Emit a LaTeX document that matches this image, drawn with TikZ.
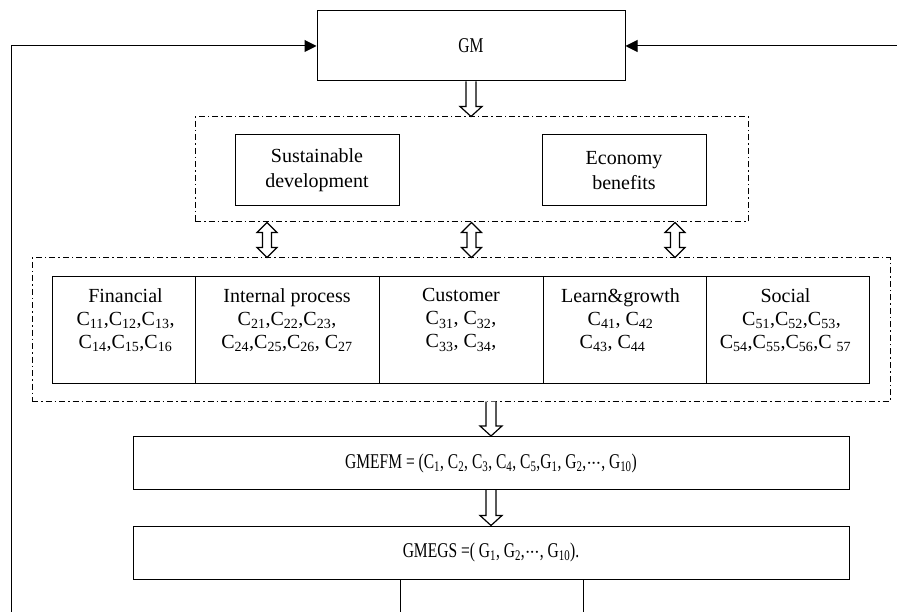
\documentclass[tikz,border=0pt]{standalone}
\usepackage{fontspec}
\setmainfont{Liberation Serif}
\newfontfamily\condfont[FakeStretch=0.74]{Liberation Serif}
\usetikzlibrary{arrows.meta,calc}
\newcommand\Cs[1]{C\textsubscript{#1}}
\newcommand\Gs[1]{G\textsubscript{#1}}
\newcommand\mydots{${\cdot}\mkern-1mu{\cdot}\mkern-1mu{\cdot}$}
\newcommand\hollowdown[2]{\draw[hollow] let \p1=(#1), \p2=(#2) in
  (\x1-5pt,\y1) -- (\x1-5pt,\y2+10pt) -- (\x1-11pt,\y2+10pt) -- (\x1,\y2)
  -- (\x1+11pt,\y2+10pt) -- (\x1+5pt,\y2+10pt) -- (\x1+5pt,\y1);}
\newcommand\hollowboth[2]{\draw[hollow] let \p1=(#1), \p2=(#2) in
  (\x1,\y1) -- (\x1+10pt,\y1-10pt) -- (\x1+4.5pt,\y1-10pt) -- (\x1+4.5pt,\y2+10pt)
  -- (\x1+10pt,\y2+10pt) -- (\x1,\y2) -- (\x1-10pt,\y2+10pt) -- (\x1-4.5pt,\y2+10pt)
  -- (\x1-4.5pt,\y1-10pt) -- (\x1-10pt,\y1-10pt) -- cycle;}
\tikzset{
  box/.style={draw, line width=1pt, inner sep=0pt, align=center},
  cell/.style={draw, line width=1pt, inner sep=0pt, minimum height=106pt},
  celltext/.style={anchor=north, align=center, inner sep=0pt, font=\fontsize{20}{23}\selectfont},
  frame/.style={draw, line width=1pt, dash pattern=on 6pt off 3pt on 1.5pt off 3pt, inner sep=0pt},
  hollow/.style={draw, fill=white, line width=1.2pt, line join=miter},
  conn/.style={line width=1pt},
  tip/.style={-{Triangle[length=12pt,width=12pt]}},
  condtext/.style={font=\condfont\fontsize{21}{24}\selectfont},
}
\begin{document}
\begin{tikzpicture}[x=1pt,y=-1pt]
\useasboundingbox (0,0) rectangle (897,612);
% GM
\node[box, condtext, minimum width=308pt, minimum height=70pt] (gm) at (471,46) {GM};
% top frame
\node[frame, minimum width=553pt, minimum height=105pt] (topframe) at (471.5,169.5) {};
\node[box, minimum width=164pt, minimum height=71pt, font=\fontsize{20}{25}\selectfont] (sd) at (317,170.5) {Sustainable\\development};
\node[box, minimum width=164pt, minimum height=71pt, font=\fontsize{20}{25}\selectfont] (eb) at (624,170.5) {Economy\\benefits};
% lower frame
\node[frame, minimum width=858pt, minimum height=143pt] (lowframe) at (461,329.5) {};
\node[cell, minimum width=143pt] (fin) at (123.5,330) {};
\node[cell, minimum width=184pt] (ip) at (287,330) {};
\node[cell, minimum width=164pt] (cu) at (461,330) {};
\node[cell, minimum width=163pt] (lg) at (624.5,330) {};
\node[cell, minimum width=163pt] (so) at (787.5,330) {};
\node[celltext] (fint) at ($(fin.north)+(2,12)$) {Financial\\\Cs{11},\Cs{12},\Cs{13},\\\Cs{14},\Cs{15},\Cs{16}};
\node[celltext] (ipt) at ($(ip.north)+(0,12)$) {Internal process\\\Cs{21},\Cs{22},\Cs{23},\hspace*{14pt}\\\Cs{24},\Cs{25},\Cs{26}, \Cs{27}};
\node[celltext] (cut) at ($(cu.north)+(0,12)$) {Customer\\\Cs{31}, \Cs{32},\\\Cs{33}, \Cs{34},};
\node[celltext] (lgt) at ($(lg.north)+(-4,12)$) {Learn\&growth\\\Cs{41}, \Cs{42}\hspace*{16pt}\\\Cs{43}, \Cs{44}\hspace*{16pt}};
\node[celltext] (sot) at ($(so.north)+(-2,12)$) {Social\\\hspace*{12pt}\Cs{51},\Cs{52},\Cs{53},\\\Cs{54},\Cs{55},\Cs{56},C \textsubscript{57}};
% lower boxes
\node[box, condtext, minimum width=716pt, minimum height=53pt] (gmefm) at (491,463)
  {GMEFM = (\Cs{1}, \Cs{2}, \Cs{3}, \Cs{4}, \Cs{5},\Gs{1}, \Gs{2},\mydots, \Gs{10})};
\node[box, condtext, minimum width=716pt, minimum height=53pt] (gmegs) at (491,552.5)
  {GMEGS =( \Gs{1}, \Gs{2},\mydots, \Gs{10}).};
% hollow arrows
\hollowdown{gm.south}{topframe.north}
\hollowboth{$(topframe.south)+(-204.5,0)$}{lowframe.north}
\hollowboth{topframe.south}{lowframe.north}
\hollowboth{$(topframe.south)+(203.5,0)$}{lowframe.north}
\hollowdown{lowframe.south -| gmefm}{gmefm.north}
\hollowdown{gmefm.south}{gmegs.north}
% feedback lines
\coordinate (b1) at (400,612);
\coordinate (b2) at (583,612);
\coordinate (lb) at (11,612);
\coordinate (rr) at (897,46);
\draw[conn] (gmegs.south -| b1) -- (b1);
\draw[conn] (gmegs.south -| b2) -- (b2);
\draw[conn, tip] (lb) |- (gm.west);
\draw[conn, tip] (rr) -- (gm.east);
\end{tikzpicture}
\end{document}
